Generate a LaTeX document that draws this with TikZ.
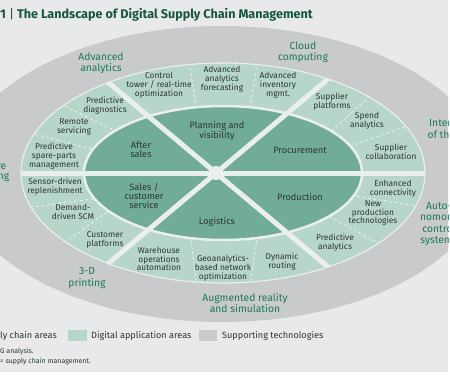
\documentclass[tikz,border=0pt]{standalone}
\usepackage{fontspec}
\setmainfont{Fira Sans}
\definecolor{bgc}{RGB}{232,233,234}
\definecolor{outerc}{RGB}{201,202,203}
\definecolor{ringc}{RGB}{182,214,201}
\definecolor{innerc}{RGB}{112,172,150}
\definecolor{gapc}{RGB}{234,238,236}
\definecolor{txt}{RGB}{45,55,52}
\definecolor{techc}{RGB}{28,122,88}
\definecolor{titlec}{RGB}{22,88,62}
\begin{document}
\begin{tikzpicture}[x=1pt,y=-1pt,
        cell/.style={align=center,text=txt,inner sep=0pt,font=\fontsize{8.4}{8.8}\selectfont},
        area/.style={cell,font=\fontsize{9.2}{9}\selectfont},
        tech/.style={align=center,text=techc,inner sep=0pt,font=\fontsize{10.3}{11.2}\selectfont},
        legend/.style={anchor=west,text=txt,inner sep=0pt,font=\fontsize{9.1}{10}\selectfont},
        gap/.style={draw=gapc,line width=5pt},
        sub/.style={draw=gapc,line width=0.9pt,dash pattern=on 3pt off 2.5pt}]
        \useasboundingbox (0,0) rectangle (450,375);
        \clip (0,0) rectangle (448,372);
        \fill[bgc] (0,0) rectangle (448,372);
        \coordinate (ctr) at (223,173);
        \coordinate (hub) at (216,173);
        \fill[outerc] (222,174) ellipse[x radius=265pt,y radius=148pt];
        \fill[ringc] (ctr) ellipse[x radius=202pt,y radius=110pt];
        \begin{scope}
            \clip (ctr) ellipse[x radius=202pt,y radius=110pt];
            \foreach \xa/\ya/\xb/\yb in {189/62/197/112,258/62/249/112,370/96/326/136,410/125/345/148,
                    425/207/355/196,385/247/325/214,197/287/190/232,250/287/258/232,
                    25/208/100/198,60/246/115/206,60/104/120/133,30/133/96/150}
                \draw[sub] (\xa,\ya) -- (\xb,\yb);
            \filldraw[fill=innerc,draw=gapc,line width=2.5pt] (ctr) ellipse[x radius=139pt,y radius=67pt];
            \foreach \a in {0,40,140,180,220,320}
                \draw[gap] (hub) -- ++(\a:300);
        \end{scope}
        \draw[gapc,line width=1.2pt] (ctr) ellipse[x radius=202pt,y radius=110pt];
        \fill[gapc] (hub) circle[radius=7pt];
        \node[anchor=west,text=titlec,inner sep=0pt,font=\fontsize{12.6}{14}\selectfont\bfseries] (title) at (0,15)
            {1 {\mdseries|} The Landscape of Digital Supply Chain Management};
        \node[area] (plan) at (217,131) {Planning and\\visibility};
        \node[area] (proc) at (300,150) {Procurement};
        \node[area] (prod) at (300,197) {Production};
        \node[area] (logi) at (217,222) {Logistics};
        \node[area] (sales) at (144,196) {Sales /\\customer\\service};
        \node[area] (after) at (141,150) {After\\sales};
        \node[cell] (ctl) at (159,85) {Control\\tower / real-time\\optimization};
        \node[cell] (fcast) at (222,79) {Advanced\\analytics\\forecasting};
        \node[cell] (inv) at (278,85) {Advanced\\inventory\\mgmt.};
        \node[cell] (splat) at (332,102) {Supplier\\platforms};
        \node[cell] (spend) at (367,121) {Spend\\analytics};
        \node[cell] (scollab) at (391,152) {Supplier\\collaboration};
        \node[cell] (conn) at (393,189) {Enhanced\\connectivity};
        \node[cell] (newprod) at (373,213) {New\\production\\technologies};
        \node[cell] (predan) at (335,243) {Predictive\\analytics};
        \node[cell] (whouse) at (159,259) {Warehouse\\operations\\automation};
        \node[cell] (geo) at (223,268) {Geoanalytics-\\based network\\optimization};
        \node[cell] (route) at (282,262) {Dynamic\\routing};
        \node[cell] (sensor) at (55,187) {Sensor-driven\\replenishment};
        \node[cell] (demand) at (73,212) {Demand-\\driven SCM};
        \node[cell] (cplat) at (105,240) {Customer\\platforms};
        \node[cell] (diag) at (105,106) {Predictive\\diagnostics};
        \node[cell] (remote) at (74,127) {Remote\\servicing};
        \node[cell] (spare) at (54,156) {Predictive\\spare-parts\\management};
        \node[tech] (advan) at (101,63) {Advanced\\analytics};
        \node[tech] (cloud) at (303,52) {Cloud\\computing};
        \node[tech] (iot) at (448,130) {Internet\\of things};
        \node[tech] (auto) at (439,224) {Auto-\\nomous\\control\\systems};
        \node[tech] (print) at (87,278) {3-D\\printing};
        \node[tech] (ar) at (245,303) {Augmented reality\\and simulation};
        \node[tech,anchor=east] (cutre) at (6.5,167) {re};
        \node[tech,anchor=east] (cutng) at (9.5,178) {ng};
        \node[legend] (lsc) at (0,336) {ly chain areas};
        \fill[ringc] (68,330) rectangle (87,341);
        \node[legend] (lda) at (91,336) {Digital application areas};
        \fill[outerc] (199,330) rectangle (217,341);
        \node[legend] (lst) at (222,336) {Supporting technologies};
        \node[legend,font=\fontsize{7}{8}\selectfont] (src) at (0,352) {G analysis.};
        \node[legend,font=\fontsize{7}{8}\selectfont] (note) at (0,362) {= supply chain management.};
\end{tikzpicture}
\end{document}
